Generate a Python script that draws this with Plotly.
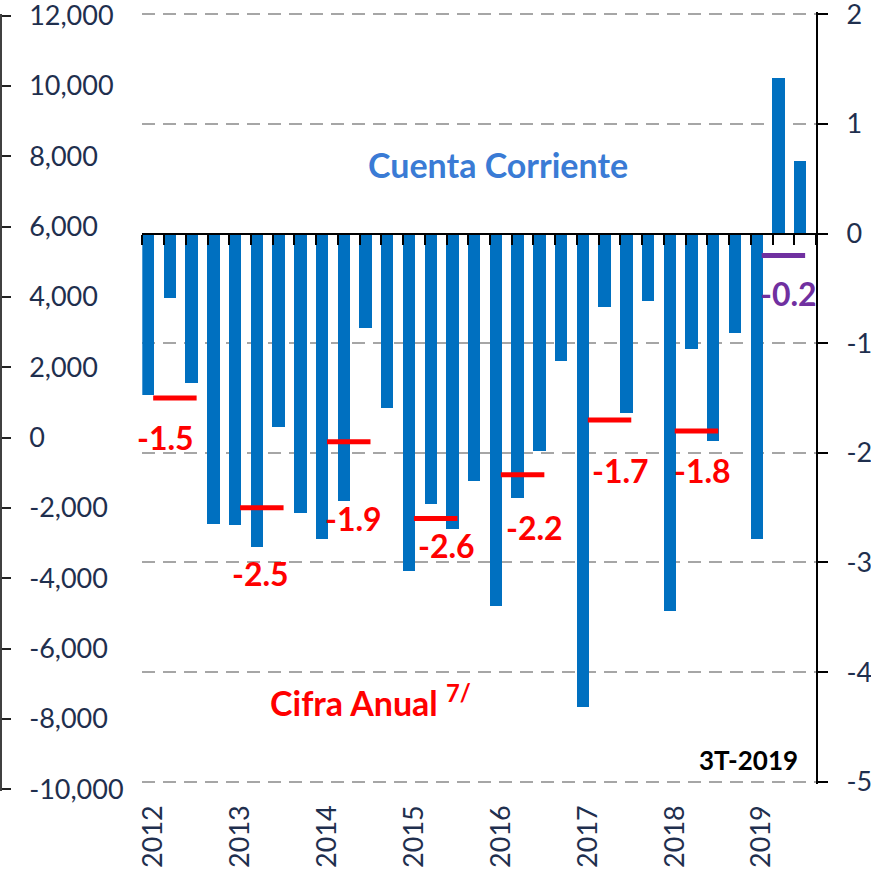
import plotly.graph_objects as go

# ---------------- data ----------------
years = [2012, 2013, 2014, 2015, 2016, 2017, 2018, 2019]
quarters = ["T1", "T2", "T3", "T4"]
quarter_labels = [f"{y}-{q}" for y in years for q in quarters][:31]

# quarterly current account (right axis units)
current_account = [
    -1.47, -0.59, -1.36, -2.65,
    -2.66, -2.86, -1.77, -2.55,
    -2.79, -2.44, -0.86, -1.59,
    -3.08, -2.47, -2.70, -2.26,
    -3.40, -2.41, -1.98, -1.16,
    -4.32, -0.67, -1.64, -0.62,
    -3.44, -1.05, -1.89, -0.91,
    -2.79, 1.42, 0.66,
]

# annual figures
annual_years = [2012, 2013, 2014, 2015, 2016, 2017, 2018, 2019]
annual_values = [-1.5, -2.5, -1.9, -2.6, -2.2, -1.7, -1.8, -0.2]

left_ticks = list(range(-10000, 12001, 2000))
right_ticks = list(range(-5, 3))

# ---------------- layout geometry ----------------
W, H = 871, 876
ML, MR, MT, MB = 1, 55, 10, 80
PW, PH = W - ML - MR, H - MT - MB


def fx(px):
    return (px - ML) / PW


def fy(py):
    return (H - MB - py) / PH


R_PX = 109.6          # px per right-axis unit
L_PX = 0.03516        # px per left-axis unit
EPS_R = 0.02
EPS_L = 40
main_dom = [fy(781.7 + EPS_R * R_PX), fy(14.3 - EPS_R * R_PX)]
left_dom = [fy(789.3 + EPS_L * L_PX), fy(15.7 - EPS_L * L_PX)]
x_dom = [fx(142.3), 1.0]
y_range = [right_ticks[0] - EPS_R, right_ticks[-1] + EPS_R]
zero_pos = main_dom[0] + (0 - y_range[0]) / (y_range[1] - y_range[0]) * (main_dom[1] - main_dom[0])

NAVY = "#1F2F4E"
FONT = "Lato"

idx = list(range(len(current_account)))

fig = go.Figure()

fig.add_trace(go.Bar(
    x=idx, y=current_account, offset=0, width=0.57,
    marker=dict(color="#0070C0", line=dict(width=0)),
    xaxis="x", yaxis="y", showlegend=False, hoverinfo="skip",
))

# annual segments: from Q1 centre to Q3 centre of each year
red_x, red_y, pur_x, pur_y = [], [], [], []
for yr, v in zip(annual_years, annual_values):
    q1 = quarter_labels.index(f"{yr}-T1") + 0.5
    q3 = quarter_labels.index(f"{yr}-T3") + 0.5
    if yr == 2019:
        pur_x += [q1, q3, None]
        pur_y += [v, v, None]
    else:
        red_x += [q1, q3, None]
        red_y += [v, v, None]

fig.add_trace(go.Scatter(x=red_x, y=red_y, mode="lines",
                         line=dict(color="#FF0000", width=5),
                         xaxis="x2", yaxis="y", showlegend=False, hoverinfo="skip"))
fig.add_trace(go.Scatter(x=pur_x, y=pur_y, mode="lines",
                         line=dict(color="#7030A0", width=5),
                         xaxis="x2", yaxis="y", showlegend=False, hoverinfo="skip"))

# helper (empty) trace so the left money axis is drawn
fig.add_trace(go.Scatter(x=[None], y=[None], xaxis="x", yaxis="y2",
                         showlegend=False, hoverinfo="skip"))

# ---------------- annotations ----------------
label_pos = {
    2012: (1.09, -1.86), 2013: (5.42, -3.10), 2014: (9.70, -2.60),
    2015: (14.01, -2.85), 2016: (18.03, -2.68), 2017: (21.99, -2.16),
    2018: (25.79, -2.16), 2019: (29.75, -0.545),
}
annotations = []
for yr, v in zip(annual_years, annual_values):
    px_, py_ = label_pos[yr]
    annotations.append(dict(
        x=px_, y=py_, xref="x", yref="y", text=f"<b>{v}</b>", showarrow=False,
        xanchor="center", yanchor="middle",
        font=dict(family=FONT, size=32, color="#7030A0" if yr == 2019 else "#FF0000"),
    ))

annotations.append(dict(x=16.37, y=0.632, xref="x", yref="y", text="<b>Cuenta Corriente</b>",
                        showarrow=False, xanchor="center", yanchor="middle",
                        font=dict(family=FONT, size=34, color="#3A7BD5")))
annotations.append(dict(x=5.80, y=-4.265, xref="x", yref="y", text="<b>Cifra Anual <sup>7/</sup></b>",
                        showarrow=False, xanchor="left", yanchor="middle",
                        font=dict(family=FONT, size=34, color="#FF0000")))
annotations.append(dict(x=30.28, y=-4.80, xref="x", yref="y", text="<b>3T-2019</b>",
                        showarrow=False, xanchor="right", yanchor="middle",
                        font=dict(family=FONT, size=26, color="#000000")))

q1_centres = [quarter_labels.index(f"{y}-T1") + 0.5 for y in years]

fig.update_layout(
    width=W, height=H,
    margin=dict(l=ML, r=MR, t=MT, b=MB, pad=0, autoexpand=False),
    paper_bgcolor="white", plot_bgcolor="rgba(0,0,0,0)",
    showlegend=False,
    bargap=0,
    annotations=annotations,
    xaxis=dict(
        domain=x_dom, range=[0, len(current_account)], anchor="y", automargin=False,
        tickmode="array", tickvals=q1_centres, ticktext=[str(y) for y in years],
        tickangle=-90, ticks="", showline=False, showgrid=False, zeroline=False,
        tickfont=dict(family=FONT, size=27, color=NAVY), ticklabelstandoff=15,
        ticklabeloverflow="allow",
    ),
    xaxis2=dict(
        overlaying="x", anchor="free", position=zero_pos, side="bottom", automargin=False,
        range=[0, len(current_account)],
        tickmode="array", tickvals=list(range(len(current_account) + 1)),
        ticks="outside", ticklen=10, tickwidth=2, tickcolor="black",
        showticklabels=False, showline=True, linecolor="black", linewidth=2,
        showgrid=False, zeroline=False,
    ),
    yaxis=dict(
        domain=main_dom, range=y_range, side="right", anchor="x", automargin=False,
        tickmode="array", tickvals=right_ticks, ticktext=[str(v) for v in right_ticks],
        ticks="outside", ticklen=10, tickwidth=2, tickcolor="black",
        showline=True, linecolor="black", linewidth=2,
        showgrid=True, gridcolor="#A6A6A6", gridwidth=2, griddash="13px,8px",
        zeroline=False,
        tickfont=dict(family=FONT, size=27, color=NAVY), ticklabelstandoff=13,
        ticklabeloverflow="allow",
    ),
    yaxis2=dict(
        domain=left_dom, range=[left_ticks[0] - EPS_L, left_ticks[-1] + EPS_L], side="right",
        anchor="free", position=0, automargin=False,
        tickmode="array", tickvals=left_ticks, ticktext=[f"{v:,}" for v in left_ticks],
        ticks="outside", ticklen=9, tickwidth=1.5, tickcolor="#222222",
        showline=True, linecolor="#404040", linewidth=1.5,
        showgrid=False, zeroline=False,
        tickfont=dict(family=FONT, size=27, color=NAVY), ticklabelstandoff=13,
        ticklabeloverflow="allow",
    ),
)

fig.write_html("out.html", config={"displayModeBar": False},
               post_script="document.body.style.margin='0px';")
